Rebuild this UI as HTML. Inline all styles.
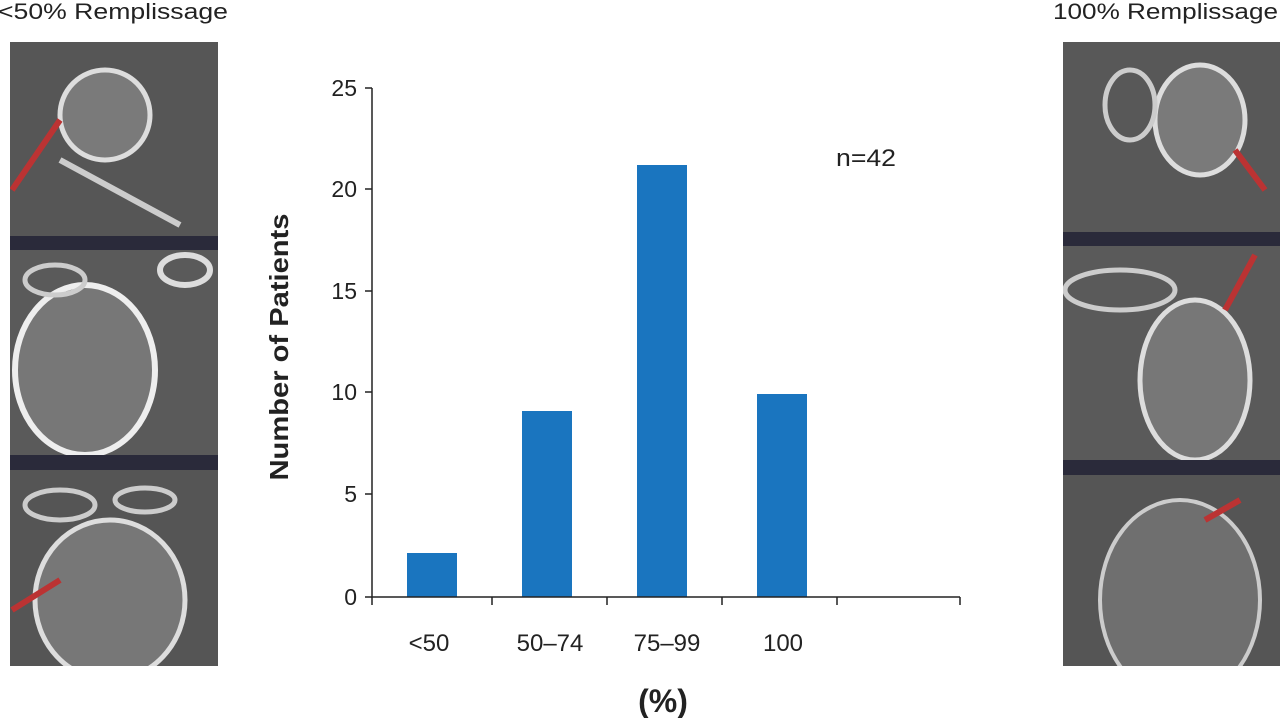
<!DOCTYPE html>
<html><head><style>
body{margin:0;width:1280px;height:718px;background:#fff;overflow:hidden;font-family:"Liberation Sans",sans-serif;}
</style></head><body>
<svg width="1280" height="718" xmlns="http://www.w3.org/2000/svg" font-family="Liberation Sans, sans-serif">
<defs>
<clipPath id="cl"><rect x="10" y="42" width="208" height="624"/></clipPath>
<clipPath id="cr"><rect x="1063" y="42" width="217" height="624"/></clipPath>
</defs>
<text x="-2" y="19" font-size="22" fill="#222" textLength="230" lengthAdjust="spacingAndGlyphs">&lt;50% Remplissage</text>
<text x="1053" y="19" font-size="22" fill="#222" textLength="225" lengthAdjust="spacingAndGlyphs">100% Remplissage</text>
<!-- left images -->
<g clip-path="url(#cl)">
<rect x="10" y="42" width="208" height="624" fill="#2a2a3a"/>
<rect x="10" y="42" width="208" height="194" fill="#565656"/>
<rect x="10" y="250" width="208" height="205" fill="#5a5a5a"/>
<rect x="10" y="470" width="208" height="196" fill="#555"/>
<ellipse cx="105" cy="115" rx="45" ry="45" fill="#7a7a7a" stroke="#ddd" stroke-width="5"/>
<path d="M60 160 L180 225" stroke="#ccc" stroke-width="6"/>
<g clip-path="none"><rect x="10" y="250" width="0" height="0"/></g>
<ellipse cx="85" cy="370" rx="70" ry="85" fill="#777" stroke="#eee" stroke-width="6"/>
<ellipse cx="185" cy="270" rx="25" ry="15" fill="none" stroke="#ddd" stroke-width="6"/>
<ellipse cx="55" cy="280" rx="30" ry="15" fill="none" stroke="#ccc" stroke-width="5"/>
<ellipse cx="110" cy="600" rx="75" ry="80" fill="#777" stroke="#ddd" stroke-width="5"/>
<ellipse cx="60" cy="505" rx="35" ry="15" fill="none" stroke="#ccc" stroke-width="5"/>
<ellipse cx="145" cy="500" rx="30" ry="12" fill="none" stroke="#ccc" stroke-width="5"/>
<rect x="10" y="236" width="208" height="14" fill="#2a2a3a"/>
<rect x="10" y="455" width="208" height="15" fill="#2a2a3a"/>
<path d="M12 190 L60 120" stroke="#b33" stroke-width="6"/>
<path d="M12 610 L60 580" stroke="#b33" stroke-width="6"/>
</g>
<!-- right images -->
<g clip-path="url(#cr)">
<rect x="1063" y="42" width="217" height="624" fill="#2a2a3a"/>
<rect x="1063" y="42" width="217" height="190" fill="#585858"/>
<rect x="1063" y="246" width="217" height="214" fill="#5a5a5a"/>
<rect x="1063" y="475" width="217" height="191" fill="#555"/>
<ellipse cx="1200" cy="120" rx="45" ry="55" fill="#7a7a7a" stroke="#ddd" stroke-width="5"/>
<ellipse cx="1130" cy="105" rx="25" ry="35" fill="none" stroke="#ccc" stroke-width="5"/>
<ellipse cx="1195" cy="380" rx="55" ry="80" fill="#777" stroke="#ddd" stroke-width="5"/>
<ellipse cx="1120" cy="290" rx="55" ry="20" fill="none" stroke="#ccc" stroke-width="5"/>
<ellipse cx="1180" cy="600" rx="80" ry="100" fill="#6f6f6f" stroke="#ccc" stroke-width="4"/>
<rect x="1063" y="232" width="217" height="14" fill="#2a2a3a"/>
<rect x="1063" y="460" width="217" height="15" fill="#2a2a3a"/>
<path d="M1235 150 L1265 190" stroke="#b33" stroke-width="6"/>
<path d="M1255 255 L1225 310" stroke="#b33" stroke-width="6"/>
<path d="M1240 500 L1205 520" stroke="#b33" stroke-width="6"/>
</g>
<!-- chart -->
<g fill="#1a75bf">
<rect x="407" y="553" width="50" height="44"/>
<rect x="522" y="411" width="50" height="186"/>
<rect x="637" y="165" width="50" height="432"/>
<rect x="757" y="394" width="50" height="203"/>
</g>
<g stroke="#222" stroke-width="1.5" fill="none">
<path d="M372 88 V597 H960"/>
<path d="M365 88H372M365 189H372M365 291H372M365 392H372M365 494H372M365 597H372"/>
<path d="M372 597V605M492 597V605M607 597V605M722 597V605M837 597V605M960 597V605"/>
</g>
<g font-size="23" fill="#222" text-anchor="end">
<text x="357" y="96">25</text><text x="357" y="197">20</text><text x="357" y="299">15</text>
<text x="357" y="400">10</text><text x="357" y="502">5</text><text x="357" y="605">0</text>
</g>
<g font-size="24" fill="#222" text-anchor="middle">
<text x="429" y="651">&lt;50</text><text x="550" y="651">50–74</text>
<text x="667" y="651">75–99</text><text x="783" y="651">100</text>
</g>
<text x="836" y="166" font-size="24" fill="#222" textLength="60" lengthAdjust="spacingAndGlyphs">n=42</text>
<text transform="translate(288,347) rotate(-90)" font-size="26" font-weight="bold" text-anchor="middle" fill="#222" textLength="267" lengthAdjust="spacingAndGlyphs">Number of Patients</text>
<text x="663" y="712" font-size="32" font-weight="bold" text-anchor="middle" fill="#222">(%)</text>
</svg>
</body></html>
